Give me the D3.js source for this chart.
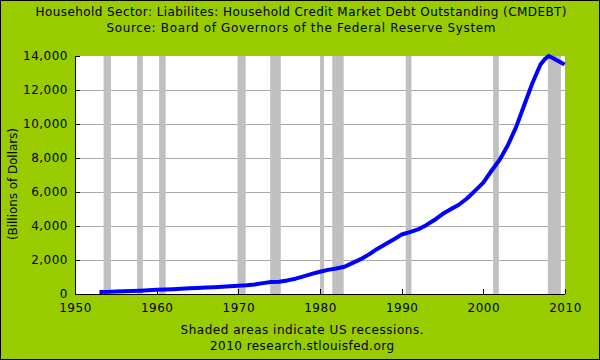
<!DOCTYPE html>
<html><head><meta charset="utf-8">
<script src="https://cdn.jsdelivr.net/npm/d3@7"></script>
<style>body{margin:0;} svg{display:block;} text{font-family:"DejaVu Sans",Verdana,sans-serif;font-size:12px;fill:#000;}</style>
</head><body>
<svg id="c" width="600" height="360"></svg>
<script>
const titleLines = ["Household Sector: Liabilites: Household Credit Market Debt Outstanding (CMDEBT)",
  "Source: Board of Governors of the Federal Reserve System"];
const footerLines = ["Shaded areas indicate US recessions.", "2010 research.stlouisfed.org"];
const yAxisTitle = "(Billions of Dollars)";
const xTicks = [1950, 1960, 1970, 1980, 1990, 2000, 2010];
const yTicks = [0, 2000, 4000, 6000, 8000, 10000, 12000, 14000];
const recessionStart = [1953.5, 1957.6, 1960.3, 1969.9, 1973.9, 1980.0, 1981.5, 1990.5, 2001.2, 2007.9];
const recessionEnd   = [1954.4, 1958.3, 1961.1, 1970.9, 1975.2, 1980.5, 1982.9, 1991.2, 2001.9, 2009.5];
const years = [1953,1954,1955,1956,1957,1958,1959,1960,1961,1962,1963,1964,1965,1966,1967,1968,1969,1970,
  1971,1972,1973,1974,1975,1976,1977,1978,1979,1980,1981,1982,1983,1984,1985,1986,1987,1988,1989,1990,
  1991,1992,1993,1994,1995,1996,1997,1998,1999,2000,2001,2002,2003,2004,2005,2006,2007,2007.5,2008,2008.5,2009,2009.5,2009.95];
const debt = [118,125,140,160,180,195,215,245,265,285,310,335,360,380,400,430,460,485,
  510,560,640,700,725,800,900,1040,1180,1310,1420,1500,1600,1830,2050,2330,2650,2920,3200,3500,
  3640,3800,4050,4350,4700,4980,5250,5620,6080,6550,7250,7900,8750,9800,11100,12400,13500,13800,14000,13880,13750,13620,13500];

const svg = d3.select("#c");
const W = 600, H = 360;
const m = {l: 75, r: 565, t: 56, b: 294};

svg.append("rect").attr("x",0).attr("y",0).attr("width",W).attr("height",H).attr("fill","#99cc00");
svg.append("rect").attr("x",0.5).attr("y",0.5).attr("width",W-1).attr("height",H-1).attr("fill","none").attr("stroke","#000");

const x = d3.scaleLinear().domain([1950, 2010]).range([m.l, m.r]);
const y = d3.scaleLinear().domain([0, 14000]).range([m.b, m.t]);

svg.append("rect").attr("x",m.l).attr("y",m.t).attr("width",m.r-m.l).attr("height",m.b-m.t).attr("fill","#fff");

// grid
svg.append("g").selectAll("line").data(yTicks.filter(d => d > 0 && d < 14000)).join("line")
  .attr("x1", m.l).attr("x2", m.r).attr("y1", d => y(d)).attr("y2", d => y(d))
  .attr("stroke", "#aaaaaa").attr("stroke-width", 1).attr("shape-rendering","crispEdges");

// recessions
svg.append("g").selectAll("rect").data(recessionStart).join("rect")
  .attr("x", d => x(d)).attr("width", (d,i) => x(recessionEnd[i]) - x(d))
  .attr("y", m.t).attr("height", m.b - m.t).attr("fill", "#c0c0c0");

// line
const pts = years.map((yr,i) => [yr, debt[i]]);
svg.append("path").datum(pts)
  .attr("d", d3.line().x(d => x(d[0])).y(d => y(d[1])))
  .attr("fill","none").attr("stroke","#0000ff").attr("stroke-width",4).attr("stroke-linejoin","round");

// axes
const yAxis = d3.axisLeft(y).tickValues(yTicks).tickSize(-5).tickPadding(7).tickFormat(d3.format(","));
const gy = svg.append("g").attr("transform", `translate(${m.l},0)`).call(yAxis);
const xAxis = d3.axisBottom(x).tickValues(xTicks).tickSize(-5).tickPadding(9).tickFormat(d3.format("d"));
const gx = svg.append("g").attr("transform", `translate(0,${m.b})`).call(xAxis);
[gy, gx].forEach(g => {
  g.select(".domain").attr("stroke","#000").attr("shape-rendering","crispEdges");
  g.selectAll(".tick line").attr("stroke","#000").attr("shape-rendering","crispEdges");
  g.selectAll("text").attr("font-family","DejaVu Sans").attr("font-size",12).attr("fill","#000")
    .attr("letter-spacing", "0.5px");
});
gy.select(".domain").attr("d", `M0,${m.b}V${m.t}`);
gx.select(".domain").attr("d", `M${m.l},0H${m.r}`);

// titles
const titleLen = [531, 389];
svg.append("g").selectAll("text").data(titleLines).join("text")
  .attr("x", 301).attr("y", (d,i) => 16 + i*16).attr("text-anchor","middle")
  .attr("textLength", (d,i) => titleLen[i]).attr("lengthAdjust","spacing").text(d => d);
const footLen = [243, 184];
svg.append("g").selectAll("text").data(footerLines).join("text")
  .attr("x", 302).attr("y", (d,i) => 334 + i*16).attr("text-anchor","middle")
  .attr("textLength", (d,i) => footLen[i]).attr("lengthAdjust","spacing").text(d => d);
svg.append("text").attr("transform","translate(17,184) rotate(-90)").attr("text-anchor","middle")
  .attr("textLength", 112).attr("lengthAdjust","spacing").text(yAxisTitle);
</script>
</body></html>
